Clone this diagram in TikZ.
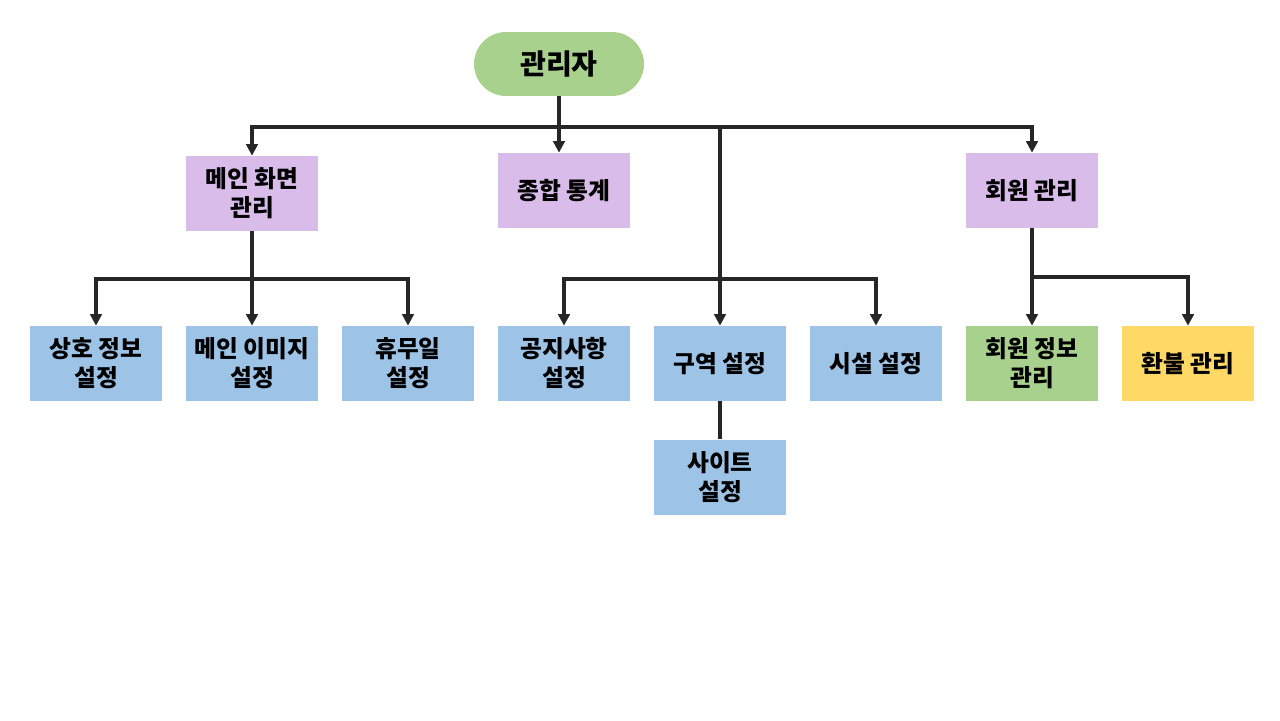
\documentclass[tikz,border=0pt]{standalone}
\usepackage{fontspec}
\setmainfont{Noto Sans CJK KR}
\usepackage{tikz}
\usetikzlibrary{arrows.meta}

\definecolor{rootgreen}{HTML}{A9D18E}
\definecolor{menupurple}{HTML}{D9BCEA}
\definecolor{itemblue}{HTML}{9DC3E6}
\definecolor{itemyellow}{HTML}{FFD966}
\definecolor{linegray}{HTML}{262626}

\begin{document}
\begin{tikzpicture}[x=0.02cm, y=-0.02cm,
	box/.style={minimum width=2.64cm, minimum height=1.5cm, inner sep=0pt, align=center, font=\bfseries\fontsize{13.5}{16.5}\selectfont},
	menu/.style={box, fill=menupurple},
	item/.style={box, fill=itemblue},
	wire/.style={draw=linegray, line width=2pt},
	arr/.style={wire, -{Triangle[length=6.5pt, width=6.5pt]}}]
\useasboundingbox (0,0) rectangle (1280,720);
\node[fill=rootgreen, rounded corners=0.64cm, minimum width=3.4cm, minimum height=1.28cm, font=\bfseries\fontsize{16}{19}\selectfont] (root) at (559,64) {관리자};
\node[menu] (main) at (252,193.5) {메인 화면\\관리};
\node[menu] (stats) at (564,190.5) {종합 통계};
\node[menu] (member) at (1032,190.5) {회원 관리};
\node[item] (mutual) at (96,363.5) {상호 정보\\설정};
\node[item] (mainimg) at (252,363.5) {메인 이미지\\설정};
\node[item] (holiday) at (408,363.5) {휴무일\\설정};
\node[item] (notice) at (564,363.5) {공지사항\\설정};
\node[item] (zone) at (720,363.5) {구역 설정};
\node[item] (facility) at (876,363.5) {시설 설정};
\node[box, fill=rootgreen] (minfo) at (1032,363.5) {회원 정보\\관리};
\node[box, fill=itemyellow] (refund) at (1188,363.5) {환불 관리};
\node[item] (site) at (720,477) {사이트\\설정};
% top level
\coordinate (bus) at (559,127);
\draw[wire] (root) -- (bus);
\draw[arr] (bus) -| (main);
\draw[arr] (bus) -- (bus |- stats.north);
\draw[arr] (bus) -| (member);
\draw[arr] (bus) -| (zone);
% main screen
\coordinate (mbus) at (252,279);
\draw[wire] (main) -- (mbus);
\draw[arr] (mbus) -| (mutual);
\draw[arr] (mbus) -- (mainimg);
\draw[arr] (mbus) -| (holiday);
% zones
\coordinate (zbus) at (720,279);
\draw[arr] (zbus) -| (notice);
\draw[arr] (zbus) -| (facility);
\draw[wire] (zone) -- (site);
% members
\coordinate (rbus) at (1032,277);
\draw[arr] (member) -- (minfo);
\draw[arr] (rbus) -| (refund);
\end{tikzpicture}
\end{document}
